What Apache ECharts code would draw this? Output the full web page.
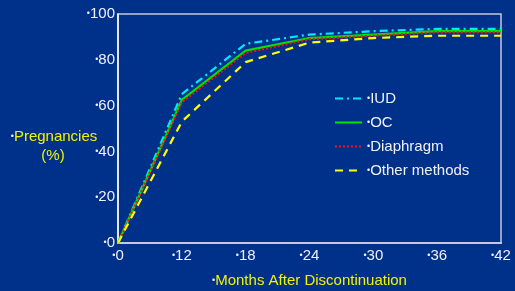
<!DOCTYPE html>
<html>
<head>
<meta charset="utf-8">
<script src="https://cdn.jsdelivr.net/npm/echarts@6/dist/echarts.min.js"></script>
<style>
  html, body { margin: 0; padding: 0; background: #00318a; }
  #container { width: 515px; height: 291px; }
</style>
</head>
<body>
<div id="container"></div>
<script>
// months after discontinuation (x categories)
var months = ['0', '12', '18', '24', '30', '36', '42']
// cumulative pregnancies (%)
var iud = [0, 65, 87, 91, 92.5, 93.5, 93.5]
var oc = [0, 62.5, 84, 89.5, 91, 92.5, 92.5]
var diaphragm = [0, 61.5, 83, 89, 90.5, 92, 92]
var other = [0, 53, 79, 87.5, 89.5, 90.5, 90.5]
var yTicks = [0, 20, 40, 60, 80, 100]

var font = 'Liberation Sans, Arial, sans-serif'
var white = '#f0f0f8'
var yellow = '#f2f200'

function bullet(v) {
    return '{b|•}{v|' + v + '}'
}
var labelRich = {
    b: { fontSize: 9, color: white, fontFamily: font },
    v: { fontSize: 15, color: white, fontFamily: font }
}

function line(name, data, color, type, width) {
    return {
        name: name,
        type: 'line',
        data: data,
        symbol: 'none',
        smooth: false,
        lineStyle: { color: color, width: width, type: type },
        itemStyle: { color: color }
    }
}

var myChart = echarts.init(document.getElementById('container'))
myChart.setOption({
    backgroundColor: '#00318a',
    animation: false,
    grid: {
        left: 118, right: 14, top: 14, bottom: 48,
        outerBoundsMode: 'none',
        containLabel: false,
        show: true,
        borderColor: '#c4c8e4',
        borderWidth: 1.5
    },
    legend: {
        orient: 'vertical',
        left: 329,
        top: 86,
        itemWidth: 27,
        itemHeight: 10,
        itemGap: 9,
        itemStyle: { opacity: 0 },
        formatter: function (n) { return '{b|•}{v|' + n + '}' },
        textStyle: {
            color: white,
            rich: {
                b: { fontSize: 9, color: white, fontFamily: font },
                v: { fontSize: 15, color: white, fontFamily: font }
            }
        },
        data: ['IUD', 'OC', 'Diaphragm', 'Other methods']
    },
    xAxis: {
        type: 'category',
        data: months,
        boundaryGap: false,
        axisLine: { lineStyle: { color: '#c4c8e4', width: 2 } },
        axisTick: { show: false },
        axisLabel: { margin: 5, interval: 0, formatter: bullet, rich: labelRich },
        name: '{b|•}{t|Months After Discontinuation}',
        nameLocation: 'middle',
        nameGap: 30,
        nameTextStyle: {
            rich: {
                b: { fontSize: 9, color: white, fontFamily: font },
                t: { fontSize: 15, color: yellow, fontFamily: font }
            }
        }
    },
    yAxis: {
        type: 'value',
        min: yTicks[0],
        max: yTicks[yTicks.length - 1],
        interval: 20,
        splitLine: { show: false },
        axisLine: { show: true, lineStyle: { color: '#ffffff', width: 1.5 } },
        axisTick: { show: false },
        axisLabel: { margin: 3, formatter: bullet, rich: labelRich }
    },
    graphic: [{
        type: 'text',
        x: 54,
        y: 137,
        style: {
            text: '{b|•}{t|Pregnancies}',
            align: 'center',
            verticalAlign: 'middle',
            rich: {
                b: { fontSize: 9, fill: white, fontFamily: font },
                t: { fontSize: 15, fill: yellow, fontFamily: font }
            }
        }
    }, {
        type: 'text',
        x: 53,
        y: 156,
        style: {
            text: '(%)',
            align: 'center',
            verticalAlign: 'middle',
            fontSize: 15,
            fill: yellow,
            fontFamily: font
        }
    }],
    series: [
        line('IUD', iud, '#00e8ff', [8, 4, 2, 4], 2.2),
        line('OC', oc, '#00e600', 'solid', 2.2),
        line('Diaphragm', diaphragm, '#ff1010', [2, 2], 2.2),
        line('Other methods', other, '#ffff00', [8, 6], 2.2)
    ]
})
</script>
</body>
</html>
